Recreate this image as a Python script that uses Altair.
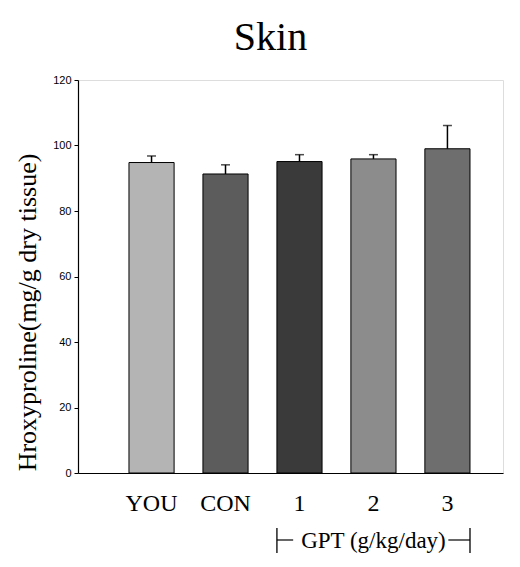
import altair as alt
import pandas as pd

# ---- data ----
groups = ["YOU", "CON", "1", "2", "3"]
means = [94.8, 91.3, 95.1, 95.9, 99.0]
errors = [2.0, 2.8, 2.1, 1.3, 7.1]
fills = ["#b4b4b4", "#5c5c5c", "#3a3a3a", "#8c8c8c", "#6e6e6e"]
y_ticks = [0, 20, 40, 60, 80, 100, 120]
bracket_label = "GPT (g/kg/day)"
bracket_start = "1"
bracket_mid = "2"
bracket_end = "3"

df = pd.DataFrame({"group": groups, "mean": means, "err": errors})
df["upper"] = df["mean"] + df["err"]

W, H = 425, 393

xscale = alt.Scale(domain=groups, paddingInner=0.39, paddingOuter=0.5676, align=0.607)
x_axis = alt.Axis(title=None, labelAngle=0, ticks=False, tickSize=0,
                  labelFont="Liberation Serif", labelFontSize=24, labelColor="black",
                  labelBaseline="alphabetic", labelPadding=37,
                  domainColor="black", domainWidth=1.2)
yscale = alt.Scale(domain=[0, 120], nice=False)
y_title = "Hroxyproline(mg/g dry tissue)"
y_axis = alt.Axis(values=y_ticks, title=y_title, titleFont="Liberation Serif",
                  titleFontSize=26, titleFontWeight="normal", titleColor="black",
                  titleX=-43, titleY=232, titleAngle=-90, titleAlign="center",
                  titleBaseline="alphabetic",
                  labelFont="Liberation Sans", labelFontSize=11, labelColor="black",
                  tickSize=4, labelPadding=3, grid=False,
                  domainColor="black", domainWidth=1.2, tickColor="black")

X = alt.X("group:N", scale=xscale, sort=groups, axis=x_axis, title=None)

bars = alt.Chart(df).mark_bar(stroke="black", strokeWidth=1).encode(
    x=X,
    y=alt.Y("mean:Q", scale=yscale, axis=y_axis, title=y_title),
    color=alt.Color("group:N", scale=alt.Scale(domain=groups, range=fills), legend=None),
)

err_rule = alt.Chart(df).mark_rule(color="black", strokeWidth=1.5).encode(
    x=X,
    y=alt.Y("mean:Q", scale=yscale, axis=y_axis, title=y_title),
    y2="upper:Q",
)

caps = alt.Chart(df).mark_tick(color="black", size=9, thickness=1.5, orient="horizontal").encode(
    x=X,
    y=alt.Y("upper:Q", scale=yscale, axis=y_axis, title=y_title),
)

# ---- bracket under categories 1..3 ----
start_df = pd.DataFrame({"group": [bracket_start]})
end_df = pd.DataFrame({"group": [bracket_end]})
mid_df = pd.DataFrame({"group": [bracket_mid], "label": [bracket_label]})

left_vert = alt.Chart(start_df).mark_rule(color="black", strokeWidth=1.3).encode(
    x=alt.X("group:N", scale=xscale, axis=x_axis, title=None, bandPosition=0),
    y=alt.value(448), y2=alt.value(473),
)
right_vert = alt.Chart(end_df).mark_rule(color="black", strokeWidth=1.3).encode(
    x=alt.X("group:N", scale=xscale, axis=x_axis, title=None, bandPosition=1),
    y=alt.value(448), y2=alt.value(473),
)
left_dash = alt.Chart(start_df).mark_rule(color="black", strokeWidth=1.2).encode(
    x=alt.X("group:N", scale=xscale, axis=x_axis, title=None, bandPosition=0),
    x2=alt.X2("group:N", bandPosition=0.36),
    y=alt.value(460),
)
right_dash = alt.Chart(end_df).mark_rule(color="black", strokeWidth=1.2).encode(
    x=alt.X("group:N", scale=xscale, axis=x_axis, title=None, bandPosition=0.52),
    x2=alt.X2("group:N", bandPosition=1),
    y=alt.value(460),
)
label = alt.Chart(mid_df).mark_text(font="Liberation Serif", fontSize=23,
                                    baseline="alphabetic", align="center",
                                    color="black").encode(
    x=alt.X("group:N", scale=xscale, axis=x_axis, title=None),
    y=alt.value(468),
    text="label:N",
)

chart = alt.layer(bars, err_rule, caps, left_vert, right_vert, left_dash, right_dash, label).properties(
    width=W, height=H,
    title=alt.TitleParams("Skin", font="Liberation Serif", fontSize=40, fontWeight="normal",
                          color="black", anchor="middle", dx=-20, offset=24, dy=40,
                          baseline="alphabetic"),
    autosize=alt.AutoSizeParams(type="none"),
    padding={"left": 70, "top": 72, "right": 5, "bottom": 80},
).configure_view(stroke=None).configure(background="white")

chart.save("out.html", embed_options={"renderer": "svg", "actions": False})
